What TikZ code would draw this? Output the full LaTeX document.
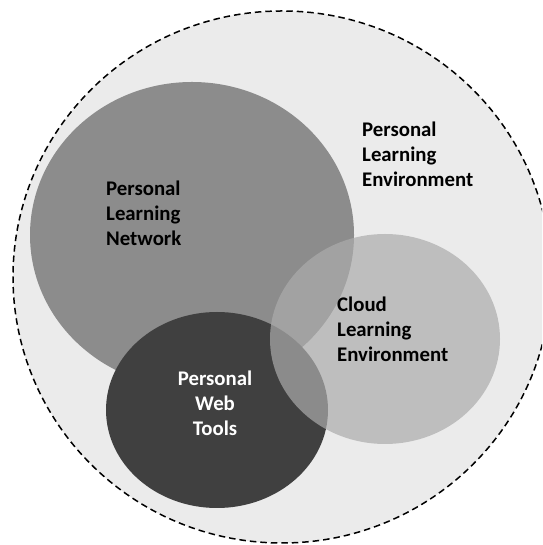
\documentclass[tikz,border=0pt]{standalone}
\usepackage{fontspec}
\setmainfont{Carlito}
\usetikzlibrary{shapes.geometric}
\definecolor{bgc}{HTML}{EBEBEB}
\definecolor{plnc}{HTML}{8C8C8C}
\definecolor{pwtc}{HTML}{404040}
\definecolor{clec}{gray}{0.675}
\tikzset{
  blob/.style={ellipse, inner sep=0pt, outer sep=0pt},
  lbl/.style={inner sep=0pt, font=\fontsize{20.8}{24.8}\selectfont\bfseries, align=left, text=black},
}
\begin{document}
\begin{tikzpicture}[x=1pt,y=1pt]
\useasboundingbox (0,0) rectangle (542,545);
\clip (0,0) rectangle (542,545);
\node[blob, fill=bgc, draw=black, line width=1.5pt, dash pattern=on 6.5pt off 4pt,
      minimum width=538pt, minimum height=532pt] (ple) at (282,268) {};
\node[blob, fill=plnc, minimum width=324pt, minimum height=306pt] (pln) at (192,310) {};
\node[blob, fill=pwtc, minimum width=222pt, minimum height=196pt] (pwt) at (217,135) {};
\node[blob, fill=clec, fill opacity=0.7, minimum width=230pt, minimum height=210pt] (cle) at (385,206) {};
\node[lbl, anchor=west] (pletxt) at (362,391) {Personal\\Learning\\Environment};
\node[lbl, anchor=west] (plntxt) at (106,332) {Personal\\Learning\\Network};
\node[lbl, anchor=west] (cletxt) at (337,216) {Cloud\\Learning\\Environment};
\node[lbl, align=center, text=white] (pwttxt) at (215,142) {Personal\\Web\\Tools};
\end{tikzpicture}
\end{document}
